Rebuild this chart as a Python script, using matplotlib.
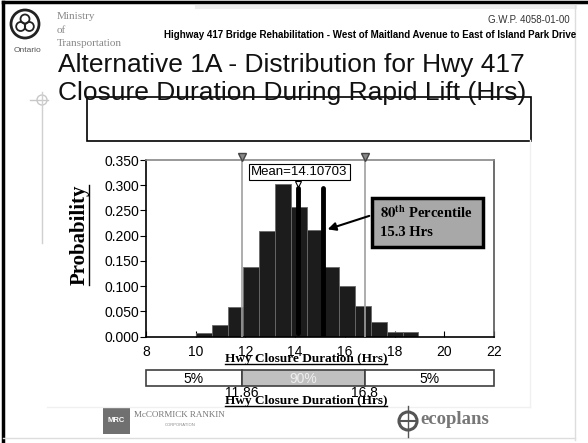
import numpy as np
import matplotlib.pyplot as plt
from matplotlib.patches import Rectangle, Circle
from matplotlib.lines import Line2D
from matplotlib.transforms import IdentityTransform

# dados
bin_left = [10.0, 10.64, 11.28, 11.92, 12.56, 13.2, 13.84, 14.48, 15.12, 15.76, 16.4, 17.04, 17.68, 18.32]
bin_width = 0.64
prob = [0.008, 0.023, 0.058, 0.139, 0.209, 0.302, 0.257, 0.211, 0.139, 0.100, 0.061, 0.030, 0.010, 0.010]
x_ticks = [8, 10, 12, 14, 16, 18, 20, 22]
y_ticks = [0.0, 0.05, 0.10, 0.15, 0.20, 0.25, 0.30, 0.35]
p5 = 11.86
p95 = 16.8
mean_val = 14.10703
p80_line = 15.13
band_labels = ['5%', '90%', '5%']

plt.rcParams['font.family'] = ['Liberation Sans', 'DejaVu Sans']
plt.rcParams['mathtext.fontset'] = 'stix'

W, H = 588, 443
fig = plt.figure(figsize=(W / 100, H / 100), dpi=100)

def box(l, t, r, b):
    return [l / W, 1 - b / H, (r - l) / W, (b - t) / H]

# eixo "pagina" em pixels
page = fig.add_axes([0, 0, 1, 1])
page.set_xlim(0, W)
page.set_ylim(H, 0)
page.axis('off')

# moldura do slide
page.plot([3, 3], [2, 443], color='black', lw=2.5)
page.plot([3, 588], [2, 2], color='black', lw=2.5)
page.plot([197, 575], [7, 7], color='#ececec', lw=3)
page.plot([575, 575], [5, 440], color='#dddddd', lw=1)
page.plot([3, 575], [438, 438], color='#dddddd', lw=1)
page.plot([530, 530], [140, 407], color='#f0f0f0', lw=1)
page.plot([47, 530], [407, 407], color='#f0f0f0', lw=1)
page.plot([30, 48], [100, 100], color='#c8c8c8', lw=1)
page.plot([42, 42], [92, 243], color='#d0d0d0', lw=1)
page.add_patch(Circle((42, 100), 5, fill=False, ec='#c8c8c8', lw=1))

# logo Ontario
page.add_patch(Circle((25, 24), 14, fill=False, ec='#222222', lw=2))
for ang in [90, 210, 330]:
    a = np.radians(ang)
    page.add_patch(Circle((25 + 5 * np.cos(a), 24 - 5 * np.sin(a)), 4.5, fill=False, ec='#222222', lw=1.3))
page.text(28, 50, 'Ontario', ha='center', va='center', fontsize=6, color='#555555')
for yy, s in [(16, 'Ministry'), (30, 'of'), (43, 'Transportation')]:
    page.text(57, yy, s, va='center', fontsize=8, color='#888888', family='Liberation Serif')

page.text(570, 20, 'G.W.P. 4058-01-00', ha='right', va='center', fontsize=7, color='#333333')
page.text(576, 35, 'Highway 417 Bridge Rehabilitation - West of Maitland Avenue to East of Island Park Drive',
          ha='right', va='center', fontsize=7, weight='bold')

page.text(58, 72, 'Alternative 1A - Distribution for Hwy 417', va='baseline', fontsize=19, color='#111111')
page.text(58, 100, 'Closure Duration During Rapid Lift (Hrs)', va='baseline', fontsize=19, color='#111111')
page.add_patch(Rectangle((87, 97), 444, 44, fill=False, ec='black', lw=1.2))

# histograma
ax = fig.add_axes(box(146, 160, 494, 336.7))
ax.bar(bin_left, prob, width=bin_width, align='edge', color='#1c1c1c', edgecolor='#6a6a6a',
       linewidth=0.6, zorder=2)
ax.set_xlim(8, 22)
ax.set_ylim(0, 0.35)
ax.set_xticks(x_ticks)
ax.set_yticks(y_ticks)
ax.set_yticklabels(['%.3f' % v for v in y_ticks])
ax.tick_params(axis='y', direction='out', length=4, pad=1, labelsize=10)
ax.tick_params(axis='x', direction='in', length=4, pad=6, labelsize=10)
ax.spines['left'].set_color('black')
ax.spines['bottom'].set_color('black')
ax.spines['top'].set_color('#888888')
ax.spines['right'].set_color('#555555')
for s in ax.spines.values():
    s.set_linewidth(1.2)

for v in (p5, p95):
    ax.axvline(v, color='#a0a0a0', lw=1.2, zorder=3)
ax.plot([p5, p95], [0.356, 0.356], 'v', ms=6, color='#888888', mec='#444444', clip_on=False, zorder=6)

ax.plot([mean_val, mean_val], [0.008, 0.294], color='black', lw=3.5, solid_capstyle='round', zorder=4)
ax.plot([p80_line, p80_line], [0.002, 0.295], color='black', lw=3.5, solid_capstyle='round', zorder=4)
ax.plot(mean_val, 0.303, 'v', ms=5, mfc='white', mec='black', mew=0.8, zorder=6)
ax.text(mean_val + 0.07, 0.327, 'Mean=%.5f' % mean_val, ha='center', va='center', fontsize=9.5,
        bbox=dict(boxstyle='square,pad=0.15', fc='white', ec='black', lw=0.8), zorder=6)

ax.add_patch(Rectangle((17.09, 0.1777), 4.47, 0.097, fc='#a8a8a8', ec='black', lw=2.5,
                       clip_on=False, zorder=5))
ax.text(17.42, 0.235, r'$\mathbf{80^{th}}$ Percentile', va='baseline', fontsize=10.5,
        family='Liberation Serif', weight='bold', zorder=6)
ax.text(17.42, 0.1995, '15.3 Hrs', va='baseline', fontsize=10.5,
        family='Liberation Serif', weight='bold', zorder=6)
ax.annotate('', xy=(15.2, 0.211), xytext=(17.09, 0.241),
            arrowprops=dict(arrowstyle='-|>', color='black', lw=1.5, mutation_scale=12), zorder=6)

# barra de percentis
ax2 = fig.add_axes(box(146, 370, 494, 386))
ax2.set_xlim(8, 22)
ax2.set_ylim(0, 1)
ax2.axis('off')
lefts = [8, p5, p95]
widths = [p5 - 8, p95 - p5, 22 - p95]
ax2.barh(0.5, widths, left=lefts, height=1, color=['white', '#c0c0c0', 'white'],
         edgecolor='#404040', linewidth=1.2, clip_on=False)
for l, w, lab, c in zip(lefts, widths, band_labels, ['black', '#eeeeee', 'black']):
    ax2.text(l + w / 2, 0.45, lab, ha='center', va='center', fontsize=10, color=c)
for v in (p5, p95):
    ax2.text(v, -0.45, '%g' % v, ha='center', va='center', fontsize=10, clip_on=False)

xl1 = page.text(306, 359, 'Hwy Closure Duration (Hrs)', ha='center', va='center',
                family='Liberation Serif', weight='bold', fontsize=9.5)
xl2 = page.text(306, 401, 'Hwy Closure Duration (Hrs)', ha='center', va='center',
                family='Liberation Serif', weight='bold', fontsize=9.5)
yl = page.text(80, 235, 'Probability', rotation=90, ha='center', va='center',
               family='Liberation Serif', weight='bold', fontsize=15)

# logos de baixo
page.add_patch(Rectangle((103, 408), 27, 26, fc='#707070', ec='none'))
page.text(116.5, 421, 'MRC', ha='center', va='center', fontsize=5.5, color='white', weight='bold')
page.text(134, 415, 'McCORMICK RANKIN', va='center', fontsize=6.5, color='#777777', family='Liberation Serif')
page.text(180, 425, 'CORPORATION', ha='center', va='center', fontsize=3, color='#888888')
page.add_patch(Circle((408, 421), 9, fill=False, ec='#555555', lw=2.2))
page.plot([399, 417], [421, 421], color='#555555', lw=1.5)
page.plot([408, 408], [406, 437], color='#555555', lw=1)
page.text(420, 420, 'ecoplans', va='center', fontsize=13.5, color='#777777', family='Liberation Serif', weight='bold')

# sublinhados
fig.canvas.draw()
for t in (xl1, xl2):
    bb = t.get_window_extent()
    fig.add_artist(Line2D([bb.x0, bb.x1], [bb.y0 + 1.5, bb.y0 + 1.5], color='black', lw=1,
                          transform=IdentityTransform()))
bb = yl.get_window_extent()
fig.add_artist(Line2D([bb.x1 - 1.5, bb.x1 - 1.5], [bb.y0, bb.y1], color='black', lw=1,
                      transform=IdentityTransform()))

fig.savefig('out.png', dpi=100)
